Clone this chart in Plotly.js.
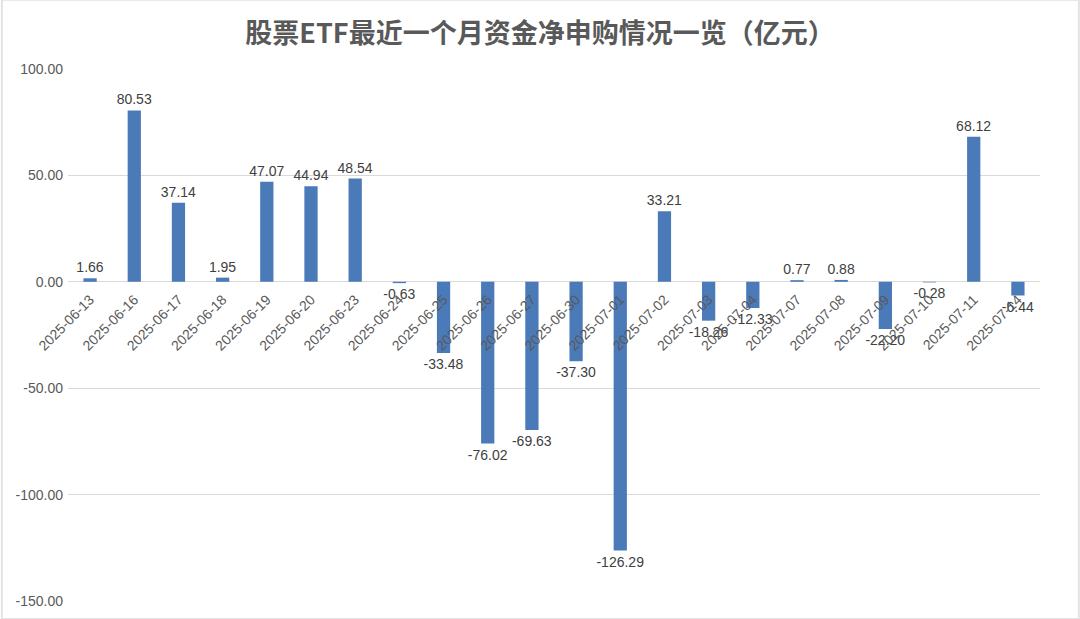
<!DOCTYPE html>
<html>
<head>
<meta charset="utf-8">
<script src="https://cdn.plot.ly/plotly-3.0.1.min.js"></script>
<style>
  html, body { margin: 0; padding: 0; background: #fff; }
  #chart { width: 1080px; height: 619px; }
</style>
</head>
<body>
<div id="chart"></div>
<script>
// 日期 + 净申购（亿元）
var dates = ['2025-06-13', '2025-06-16', '2025-06-17', '2025-06-18', '2025-06-19', '2025-06-20',
             '2025-06-23', '2025-06-24', '2025-06-25', '2025-06-26', '2025-06-27', '2025-06-30',
             '2025-07-01', '2025-07-02', '2025-07-03', '2025-07-04', '2025-07-07', '2025-07-08',
             '2025-07-09', '2025-07-10', '2025-07-11', '2025-07-14']
var netFlow = [1.66, 80.53, 37.14, 1.95, 47.07, 44.94,
               48.54, -0.63, -33.48, -76.02, -69.63, -37.30,
               -126.29, 33.21, -18.26, -12.33, 0.77, 0.88,
               -22.20, -0.28, 68.12, -6.44]
var yTicks = [100, 50, 0, -50, -100, -150]

var ymin = -150, ymax = 100
var textFont = {family: '"Liberation Sans", Arial, sans-serif', size: 14, color: '#404040'}
var tickFont = {family: '"Liberation Sans", Arial, sans-serif', size: 14, color: '#595959'}

var bars = {
	x: dates,
	y: netFlow,
	type: 'bar',
	width: 0.3,
	marker: {color: '#4a7ab8'},
	text: netFlow.map(v => v.toFixed(2)),
	textposition: 'outside',
	constraintext: 'none',
	textfont: textFont,
	cliponaxis: false,
	hoverinfo: 'x+y',
}

var layout = {
	width: 1080,
	height: 619,
	paper_bgcolor: '#fff',
	plot_bgcolor: '#fff',
	margin: {l: 68, r: 40, t: 69, b: 18},
	showlegend: false,
	bargap: 0.7,
	title: {
		text: '<b>股票ETF最近一个月资金净申购情况一览（亿元）</b>',
		x: 0.5,
		xanchor: 'center',
		y: 0.945,
		yanchor: 'middle',
		font: {family: '"Noto Sans CJK SC", sans-serif', size: 27, color: '#595959'}
	},
	xaxis: {
		type: 'category',
		anchor: 'free',
		position: (0 - ymin) / (ymax - ymin), // category axis sits on zero
		tickangle: -45,
		tickfont: tickFont,
		ticklabelstandoff: 6,
		showgrid: false,
		showline: false,
		ticks: '',
		zeroline: false,
		automargin: false
	},
	yaxis: {
		range: [ymin, ymax],
		tickvals: yTicks,
		ticktext: yTicks.map(v => v.toFixed(2)),
		tickfont: tickFont,
		ticklabelstandoff: 4,
		showgrid: true,
		gridcolor: '#d9d9d9',
		gridwidth: 1,
		zeroline: true,
		zerolinecolor: '#d9d9d9',
		zerolinewidth: 1,
		ticks: '',
		automargin: false
	},
	shapes: [
		{type: 'rect', xref: 'paper', yref: 'paper', x0: -0.068, x1: 1.04, y0: -0.034, y1: 1.13,
		 line: {color: '#e3e3e3', width: 2}, fillcolor: 'rgba(0,0,0,0)', layer: 'below'}
	]
}

Plotly.newPlot('chart', [bars], layout, {displayModeBar: false, staticPlot: true})
</script>
</body>
</html>
